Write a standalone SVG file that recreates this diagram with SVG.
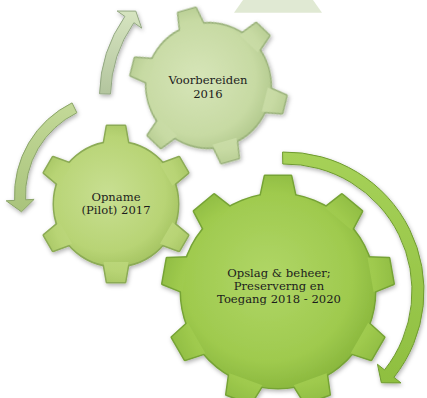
<svg xmlns="http://www.w3.org/2000/svg" xmlns:xlink="http://www.w3.org/1999/xlink" width="427" height="398" viewBox="0 0 427 398">
<defs>
<style>
.lbl{font-family:"DejaVu Serif","Liberation Serif",serif;font-size:11.6px;fill:#1c1c1c;text-anchor:middle}
.rim{stroke-width:3;stroke-linejoin:round}
.body{stroke:none}
.arrow{stroke-width:1;stroke-linejoin:round}
</style>
<filter id="sh" x="-20%" y="-20%" width="140%" height="140%">
<feDropShadow dx="1" dy="2" stdDeviation="2" flood-color="#000" flood-opacity="0.3"/>
</filter>
<radialGradient id="gr1" gradientUnits="userSpaceOnUse" cx="-8" cy="-10" r="82">
<stop offset="0" stop-color="#d6e5b8"/><stop offset="0.7" stop-color="#c7daa3"/><stop offset="1" stop-color="#adc588"/>
</radialGradient>
<radialGradient id="gr2" gradientUnits="userSpaceOnUse" cx="-8" cy="-10" r="82">
<stop offset="0" stop-color="#c8df92"/><stop offset="0.7" stop-color="#b8d475"/><stop offset="1" stop-color="#9fbf5c"/>
</radialGradient>
<radialGradient id="gr3" gradientUnits="userSpaceOnUse" cx="-10" cy="-14" r="120">
<stop offset="0" stop-color="#b0d667"/><stop offset="0.7" stop-color="#9fca4e"/><stop offset="1" stop-color="#86b43a"/>
</radialGradient>
<linearGradient id="ga1" x1="0" y1="0" x2="0" y2="1">
<stop offset="0" stop-color="#d6e4c0"/><stop offset="1" stop-color="#b3c59e"/>
</linearGradient>
<linearGradient id="ga2" x1="0" y1="0" x2="0" y2="1">
<stop offset="0" stop-color="#c3d998"/><stop offset="1" stop-color="#a9c37c"/>
</linearGradient>
<linearGradient id="ga3" x1="0" y1="0" x2="0" y2="1">
<stop offset="0" stop-color="#a6d158"/><stop offset="1" stop-color="#8fbf40"/>
</linearGradient>
<g id="gear6">
<circle r="62"/>
<path id="t6" d="M-12.5,-58 L-9,-78 L9,-78 L12.5,-58Z"/>
<use xlink:href="#t6" href="#t6" transform="rotate(60)"/>
<use xlink:href="#t6" href="#t6" transform="rotate(120)"/>
<use xlink:href="#t6" href="#t6" transform="rotate(180)"/>
<use xlink:href="#t6" href="#t6" transform="rotate(240)"/>
<use xlink:href="#t6" href="#t6" transform="rotate(300)"/>
</g>
<g id="gear9">
<circle r="97"/>
<path id="t9" d="M-17.5,-94 L-13,-115 L13,-115 L17.5,-94Z"/>
<use xlink:href="#t9" href="#t9" transform="rotate(40)"/>
<use xlink:href="#t9" href="#t9" transform="rotate(80)"/>
<use xlink:href="#t9" href="#t9" transform="rotate(120)"/>
<use xlink:href="#t9" href="#t9" transform="rotate(160)"/>
<use xlink:href="#t9" href="#t9" transform="rotate(200)"/>
<use xlink:href="#t9" href="#t9" transform="rotate(240)"/>
<use xlink:href="#t9" href="#t9" transform="rotate(280)"/>
<use xlink:href="#t9" href="#t9" transform="rotate(320)"/>
</g>
</defs>

<polygon points="243,0 313,0 322,12.7 234,12.7" fill="#e0e9d3"/>

<g id="connectors" filter="url(#sh)">
<path class="arrow" fill="url(#ga1)" stroke="#93a882" d="M99.54,93.81 A140.5,140.5 0 0 1 124.9,16.4 L117.1,11 L135.8,11.1 L141.7,28.2 L133.9,22.7 A129.5,129.5 0 0 0 110.53,94.06 Z"/>
<path class="arrow" fill="url(#ga2)" stroke="#8aa468" d="M72.07,102.87 A102.5,102.5 0 0 0 14.64,200.36 L6.15,200.81 L21.5,211.8 L34.11,199.34 L25.63,199.79 A91.5,91.5 0 0 1 76.89,112.76 Z"/>
<path class="arrow" fill="url(#ga3)" stroke="#6f9b30" d="M282.57,152.02 A139,139 0 0 1 393.94,377.33 L400.99,382.92 L381.32,382.72 L377.48,364.29 L384.53,369.88 A127,127 0 0 0 282.78,164.02 Z"/>
</g>

<g id="gear-voorbereiden">
<g filter="url(#sh)" transform="translate(208.5,85.5) rotate(-16)">
<use xlink:href="#gear6" href="#gear6" class="rim" fill="url(#gr1)" stroke="#9bb37c"/>
<use xlink:href="#gear6" href="#gear6" class="body" fill="url(#gr1)"/>
</g>
<text class="lbl" x="208" y="84">Voorbereiden</text>
<text class="lbl" x="208" y="97.5">2016</text>
</g>

<g id="gear-opname">
<g filter="url(#sh)" transform="translate(116,204)">
<use xlink:href="#gear6" href="#gear6" class="rim" fill="url(#gr2)" stroke="#8cab56"/>
<use xlink:href="#gear6" href="#gear6" class="body" fill="url(#gr2)"/>
</g>
<text class="lbl" x="116" y="200.5">Opname</text>
<text class="lbl" x="116" y="214">(Pilot) 2017</text>
</g>

<g id="gear-opslag">
<g filter="url(#sh)" transform="translate(278,291)">
<use xlink:href="#gear9" href="#gear9" class="rim" fill="url(#gr3)" stroke="#76a336"/>
<use xlink:href="#gear9" href="#gear9" class="body" fill="url(#gr3)"/>
</g>
<text class="lbl" x="279" y="277">Opslag &amp; beheer;</text>
<text class="lbl" x="279" y="290">Preserverng en</text>
<text class="lbl" x="279" y="303">Toegang 2018 - 2020</text>
</g>
</svg>
